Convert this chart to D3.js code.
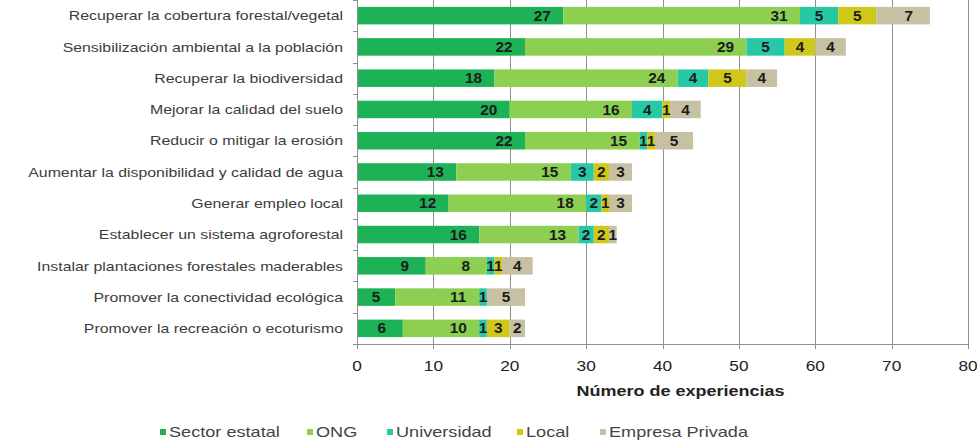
<!DOCTYPE html>
<html>
<head>
<meta charset="utf-8">
<script src="https://cdn.jsdelivr.net/npm/d3@7"></script>
<style>
  html, body { margin: 0; padding: 0; background: #fff; }
  svg { display: block; }
  text { font-family: "Liberation Sans", Arial, sans-serif; }
</style>
</head>
<body>
<svg id="chart" width="977" height="444"></svg>
<script>
const categories = [
  "Recuperar la cobertura forestal/vegetal",
  "Sensibilización ambiental a la población",
  "Recuperar la biodiversidad",
  "Mejorar la calidad del suelo",
  "Reducir o mitigar la erosión",
  "Aumentar la disponibilidad y calidad de agua",
  "Generar empleo local",
  "Establecer un sistema agroforestal",
  "Instalar plantaciones forestales maderables",
  "Promover la conectividad ecológica",
  "Promover la recreación o ecoturismo"
];
const seriesNames = ["Sector estatal", "ONG", "Universidad", "Local", "Empresa Privada"];
const sectorEstatal  = [27, 22, 18, 20, 22, 13, 12, 16, 9, 5, 6];
const ong            = [31, 29, 24, 16, 15, 15, 18, 13, 8, 11, 10];
const universidad    = [5, 5, 4, 4, 1, 3, 2, 2, 1, 1, 1];
const local          = [5, 4, 5, 1, 1, 2, 1, 2, 1, 0, 3];
const empresaPrivada = [7, 4, 4, 4, 5, 3, 3, 1, 4, 5, 2];
const xTicks = [0, 10, 20, 30, 40, 50, 60, 70, 80];
const xTitle = "Número de experiencias";
const colors = ["#1db256", "#8dcf50", "#27c8a5", "#cfc81a", "#c6c1a3"];

const seriesValues = [sectorEstatal, ong, universidad, local, empresaPrivada];
const rows = categories.map((c, i) => {
  const r = { cat: c };
  seriesNames.forEach((s, j) => r[s] = seriesValues[j][i]);
  return r;
});

const svg = d3.select("#chart");
const x0 = 357, x1 = 968, yTop = 0, yBot = 344;

const x = d3.scaleLinear().domain([0, 80]).range([x0, x1]);
const y = d3.scaleBand().domain(categories).range([yTop, yBot]).paddingInner(0.44).paddingOuter(0.22);

// gridlines
svg.append("g").selectAll("line").data(xTicks.filter(t => t > 0)).join("line")
  .attr("x1", d => Math.round(x(d)) + 0.5).attr("x2", d => Math.round(x(d)) + 0.5)
  .attr("y1", yTop).attr("y2", yBot)
  .attr("stroke", "#8e8e8e").attr("stroke-width", 1);

const stack = d3.stack().keys(seriesNames)(rows);

const layers = svg.append("g").selectAll("g").data(stack).join("g")
  .attr("fill", (d, i) => colors[i]);
layers.selectAll("rect").data(d => d).join("rect")
  .attr("x", d => x(d[0]))
  .attr("y", d => y(d.data.cat))
  .attr("width", d => x(d[1]) - x(d[0]))
  .attr("height", y.bandwidth());

// segment labels
const labG = svg.append("g");
stack.forEach(layer => {
  layer.forEach(d => {
    const v = d[1] - d[0];
    if (v <= 0) return;
    const a = x(d[0]), b = x(d[1]);
    const cx = Math.max((a + b) / 2, b - 21);
    const cy = y(d.data.cat) + y.bandwidth() / 2;
    labG.append("g").attr("transform", `translate(${cx},${cy}) scale(1.1,1)`)
      .append("text")
      .attr("text-anchor", "middle").attr("dy", "0.36em")
      .attr("font-size", 14).attr("font-weight", "bold").attr("fill", "#1c1c1c")
      .text(v);
  });
});

// y axis
svg.append("line").attr("x1", x0 + 0.5).attr("x2", x0 + 0.5).attr("y1", yTop).attr("y2", yBot)
  .attr("stroke", "#8e8e8e");
const bounds = d3.range(categories.length + 1).map(i => yTop + i * y.step());
svg.append("g").selectAll("line").data(bounds).join("line")
  .attr("x1", x0 - 4).attr("x2", x0).attr("y1", d => Math.round(d) + 0.5).attr("y2", d => Math.round(d) + 0.5)
  .attr("stroke", "#8e8e8e");
svg.append("g").selectAll("g").data(categories).join("g")
  .attr("transform", d => `translate(343,${y(d) + y.bandwidth() / 2}) scale(1.22,1)`)
  .append("text").attr("text-anchor", "end").attr("dy", "0.36em")
  .attr("font-size", 13).attr("fill", "#3c3c3c").text(d => d);

// x axis
svg.append("line").attr("x1", x0).attr("x2", x1 + 1).attr("y1", yBot + 0.5).attr("y2", yBot + 0.5)
  .attr("stroke", "#8e8e8e");
svg.append("g").selectAll("line").data(xTicks).join("line")
  .attr("x1", d => Math.round(x(d)) + 0.5).attr("x2", d => Math.round(x(d)) + 0.5)
  .attr("y1", yBot).attr("y2", yBot + 5).attr("stroke", "#8e8e8e");
svg.append("g").selectAll("g").data(xTicks).join("g")
  .attr("transform", d => `translate(${x(d)},366) scale(1.15,1)`)
  .append("text").attr("text-anchor", "middle").attr("dy", "0.36em")
  .attr("font-size", 15).attr("fill", "#222").text(d => d);

svg.append("g").attr("transform", `translate(${(x0 + x1) / 2 + 18},391) scale(1.2,1)`)
  .append("text").attr("text-anchor", "middle").attr("dy", "0.36em")
  .attr("font-size", 15).attr("font-weight", "bold").attr("fill", "#222").text(xTitle);

// legend
const legX = [160, 307, 387, 517, 600];
const leg = svg.append("g").selectAll("g").data(seriesNames).join("g")
  .attr("transform", (d, i) => `translate(${legX[i]},432)`);
leg.append("rect").attr("x", 0).attr("y", -3).attr("width", 6).attr("height", 6)
  .attr("fill", (d, i) => colors[i]);
leg.append("g").attr("transform", "translate(9,0) scale(1.25,1)")
  .append("text").attr("dy", "0.36em").attr("font-size", 14.5).attr("fill", "#444").text(d => d);
</script>
</body>
</html>
